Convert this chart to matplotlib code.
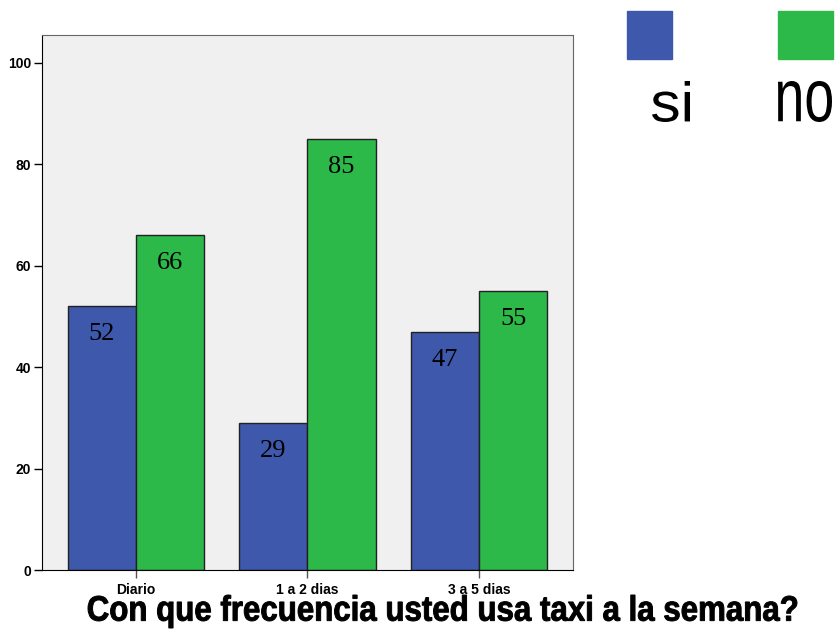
import matplotlib.pyplot as plt
import numpy as np
from matplotlib.textpath import TextPath
from matplotlib.patches import PathPatch
from matplotlib.font_manager import FontProperties
from matplotlib.transforms import Affine2D

categorias = ['Diario', '1 a 2 dias', '3 a 5 dias']
si = [52, 29, 47]
no = [66, 85, 55]
series = ['si', 'no']
colores = ['#3e58ac', '#2db84a']
titulo = 'Con que frecuencia usted usa taxi a la semana?'

W, H = 837, 630
fig = plt.figure(figsize=(W/100, H/100), dpi=100)
ax = fig.add_axes([42/W, 1-570/H, 531/W, 535/H])
ax.set_facecolor('#f0f0f0')

x = np.arange(len(categorias))
w = 0.397
b1 = ax.bar(x - w/2, si, w, color=colores[0], edgecolor='#222222', linewidth=1)
b2 = ax.bar(x + w/2, no, w, color=colores[1], edgecolor='#222222', linewidth=1)

for barras, vals in [(b1, si), (b2, no)]:
    for b, v in zip(barras, vals):
        ax.text(b.get_x() + b.get_width()/2, v - 5.5, str(v), ha='center', va='center',
                fontsize=19, family='Liberation Serif')

ax.set_xlim(-0.548, 2.548)
ax.set_ylim(0, 105.5)
ax.set_yticks([0, 20, 40, 60, 80, 100])
ax.set_xticks(x)
ax.set_xticklabels(categorias)
for lab in ax.get_xticklabels() + ax.get_yticklabels():
    lab.set_fontweight('bold')
    lab.set_fontsize(10)
    lab.set_family('Liberation Sans')
ax.tick_params(axis='both', direction='out', length=6, width=1, pad=2)
ax.tick_params(axis='x', pad=3, colors='#555555', labelcolor='black')
ax.spines['top'].set_color('#666666')
ax.spines['right'].set_color('#666666')


# texto estirado (la fuente original es condensada)
def texto_caja(s, x0, x1, ytop, ybot, bold=False, grosor=0):
    prop = FontProperties(family='Liberation Sans', weight='bold' if bold else 'normal')
    p = TextPath((0, 0), s, size=100, prop=prop)
    ext = p.get_extents()
    sx = (x1 - x0) / ext.width
    sy = (ybot - ytop) / ext.height
    tr = Affine2D().translate(-ext.x0, -ext.y0).scale(sx, sy).translate(x0, H - ybot)
    tr = tr + Affine2D().scale(1/100) + fig.dpi_scale_trans
    fig.patches.append(PathPatch(p, transform=tr, facecolor='black', edgecolor='black',
                                 lw=grosor))


# leyenda a mano
fig.patches.append(plt.Rectangle((627/W, 1-59/H), 45/W, 48/H, transform=fig.transFigure,
                                 color=colores[0]))
fig.patches.append(plt.Rectangle((778/W, 1-59/H), 55/W, 48/H, transform=fig.transFigure,
                                 color=colores[1]))
texto_caja(series[0], 652, 690, 81, 122)
texto_caja(series[1], 778, 832, 81, 122)

texto_caja(titulo, 88, 797, 595, 628, bold=True, grosor=0.7)

fig.savefig('out.png', dpi=100)
